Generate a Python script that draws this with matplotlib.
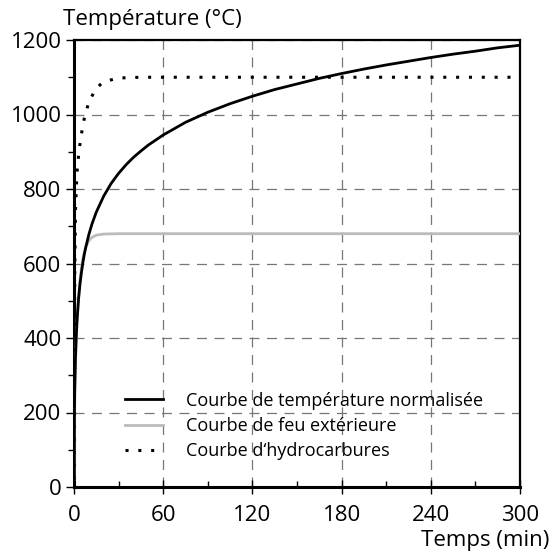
import matplotlib.pyplot as plt
from matplotlib.ticker import MultipleLocator

# Data (time in min, temperature in °C)
t_iso = [0, 0.25, 0.5, 1, 1.5, 2, 3, 4, 5, 6, 7, 8, 10, 12, 15, 20, 25, 30, 35, 40, 45,
         50, 60, 75, 90, 105, 120, 135, 150, 165, 180, 195, 210, 225, 240, 255, 270, 285, 300]
temp_iso = [20, 185, 261, 349, 404, 444, 502, 544, 576, 603, 626, 645, 678, 705, 738, 781,
            815, 842, 865, 885, 902, 918, 945, 979, 1006, 1029, 1049, 1067, 1082, 1097, 1110,
            1122, 1133, 1143, 1153, 1162, 1170, 1179, 1186]

t_ext = [0, 0.5, 1, 2, 3, 4, 5, 6, 7, 8, 10, 12, 15, 20, 30, 60, 120, 180, 240, 300]
temp_ext = [20, 263, 346, 441, 506, 553, 588, 613, 632, 645, 661, 670, 676, 679, 680, 680,
            680, 680, 680, 680]

t_hc = [0, 0.5, 1, 2, 3, 4, 5, 7, 10, 15, 20, 30, 45, 60, 120, 180, 240, 300]
temp_hc = [20, 569, 744, 844, 887, 920, 948, 991, 1034, 1071, 1088, 1098, 1100, 1100, 1100,
           1100, 1100, 1100]

labels = ["Courbe de température normalisée", "Courbe de feu extérieure",
          "Courbe d\u2018hydrocarbures"]

plt.rcParams['font.family'] = ['Open Sans', 'DejaVu Sans']

fig = plt.figure(figsize=(5.52, 5.53), dpi=100)
ax = fig.add_axes([74 / 552, 1 - 487 / 553, 446 / 552, 447 / 553])

ax.plot(t_iso, temp_iso, color='black', lw=2, label=labels[0], zorder=4)
ax.plot(t_ext, temp_ext, color='#bbbbbb', lw=2, label=labels[1], zorder=3)
ax.plot(t_hc, temp_hc, color='black', lw=2.2, linestyle=(0, (1, 3.2)),
        label=labels[2], zorder=5)

ax.set_xlim(0, 300)
ax.set_ylim(0, 1200)
ax.xaxis.set_major_locator(MultipleLocator(60))
ax.xaxis.set_minor_locator(MultipleLocator(30))
ax.yaxis.set_major_locator(MultipleLocator(200))
ax.yaxis.set_minor_locator(MultipleLocator(100))

ax.grid(True, which='major', color='#777777', lw=0.9, linestyle=(0, (8, 6)))

for side in ['left', 'bottom']:
    ax.spines[side].set_linewidth(2.2)
for side in ['top', 'right']:
    ax.spines[side].set_linewidth(1.6)

ax.tick_params(axis='x', which='major', direction='inout', length=10, width=1, labelsize=16, pad=8)
ax.tick_params(axis='x', which='minor', direction='in', length=4, width=1)
ax.tick_params(axis='y', which='major', direction='out', length=6, width=1, labelsize=16, pad=3)
ax.tick_params(axis='y', which='minor', direction='out', length=4, width=1)

fig.text(63 / 552, 1 - 25 / 553, "Température (°C)", fontsize=16, ha='left', va='baseline')
fig.text(549 / 552, 1 - 546 / 553, "Temps (min)", fontsize=16, ha='right', va='baseline')

ax.legend(frameon=False, loc='upper left', bbox_to_anchor=(51 / 446, 95.5 / 447),
          borderpad=0, borderaxespad=0, fontsize=13, handlelength=2.1,
          handletextpad=1.3, labelspacing=0.41)

fig.savefig("out.png", dpi=100)
